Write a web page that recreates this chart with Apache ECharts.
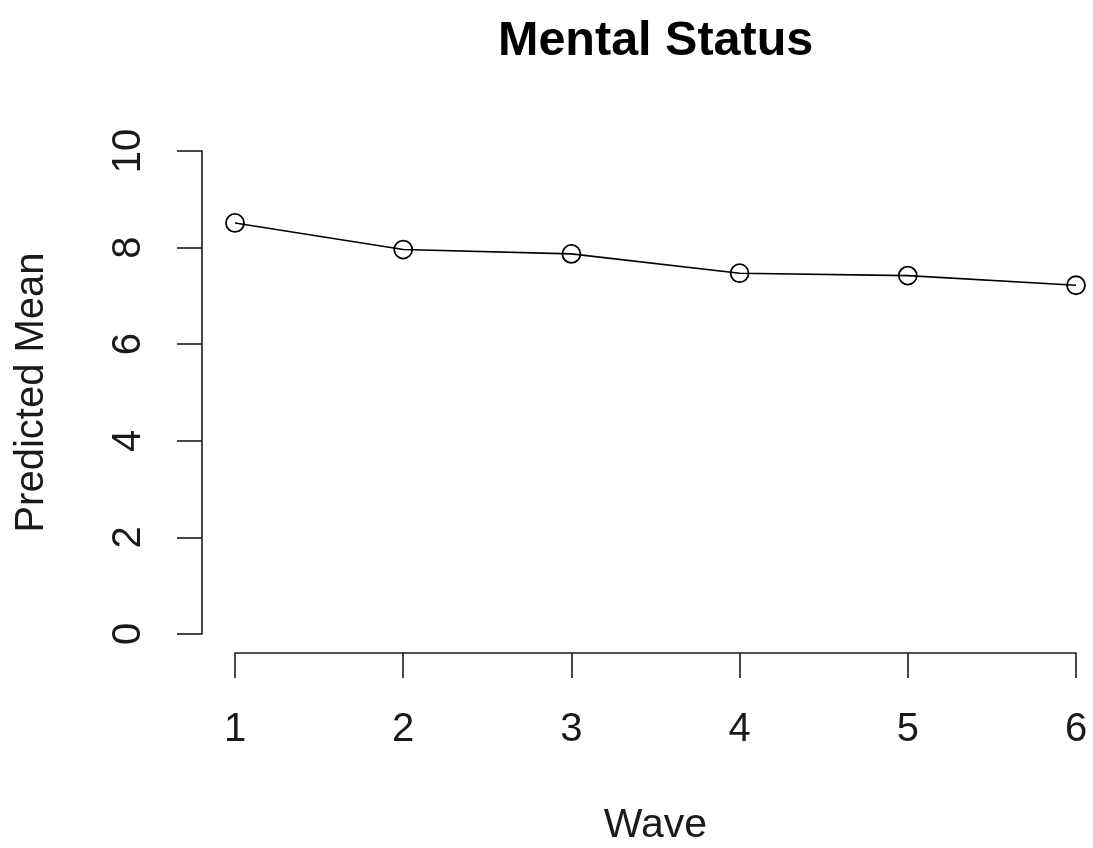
<!DOCTYPE html>
<html>
<head>
<meta charset="utf-8">
<script src="https://cdn.jsdelivr.net/npm/echarts@6/dist/echarts.min.js"></script>
<style>
  html, body { margin: 0; padding: 0; background: #fff; }
  #main { width: 1093px; height: 848px; }
</style>
</head>
<body>
<div id="main"></div>
<script>
// values
const waves = [1, 2, 3, 4, 5, 6];
const predictedMean = [8.51, 7.96, 7.87, 7.47, 7.42, 7.22];
const yTicks = [0, 2, 4, 6, 8, 10];

const font = "'Liberation Sans', Arial, Helvetica, sans-serif";
const ink = "#1a1a1a";

let chart = echarts.init(document.getElementById("main"));

chart.setOption({
  backgroundColor: "#fff",
  animation: false,
  title: {
    text: "Mental Status",
    left: 493,
    top: 12,
    textStyle: {fontFamily: font, fontSize: 48.5, fontWeight: "bold", color: "#000"}
  },
  grid: {
    left: 235,
    right: 17,
    top: 151,
    bottom: 214,
    outerBoundsMode: "none"
  },
  xAxis: {
    type: "value",
    min: 1,
    max: 6,
    interval: 1,
    offset: 19,
    name: "Wave",
    nameLocation: "middle",
    nameGap: 152,
    nameTextStyle: {fontFamily: font, fontSize: 41, color: ink},
    axisLine: {show: true, onZero: false, lineStyle: {color: ink, width: 1.6}},
    axisTick: {show: true, inside: false, length: 25, lineStyle: {color: ink, width: 1.6}},
    axisLabel: {margin: 57, fontFamily: font, fontSize: 40, color: ink},
    splitLine: {show: false}
  },
  yAxis: {
    type: "value",
    min: yTicks[0],
    max: yTicks[yTicks.length - 1],
    interval: 2,
    offset: 33,
    name: "Predicted Mean",
    nameLocation: "middle",
    nameRotate: 90,
    nameGap: 150,
    nameTextStyle: {fontFamily: font, fontSize: 40, color: ink},
    axisLine: {show: true, onZero: false, lineStyle: {color: ink, width: 1.6}},
    axisTick: {show: true, inside: false, length: 25, lineStyle: {color: ink, width: 1.6}},
    axisLabel: {margin: 53, rotate: 90, fontFamily: font, fontSize: 40, color: ink},
    splitLine: {show: false}
  },
  series: [
    {
      type: "line",
      data: waves.map((w, i) => [w, predictedMean[i]]),
      symbol: "circle",
      symbolSize: 18,
      showAllSymbol: true,
      clip: false,
      lineStyle: {color: "#000", width: 1.6},
      // open circles with the line showing through, as in R type = "o"
      itemStyle: {color: "rgba(0,0,0,0)", borderColor: "#000", borderWidth: 1.8}
    }
  ]
});
</script>
</body>
</html>
